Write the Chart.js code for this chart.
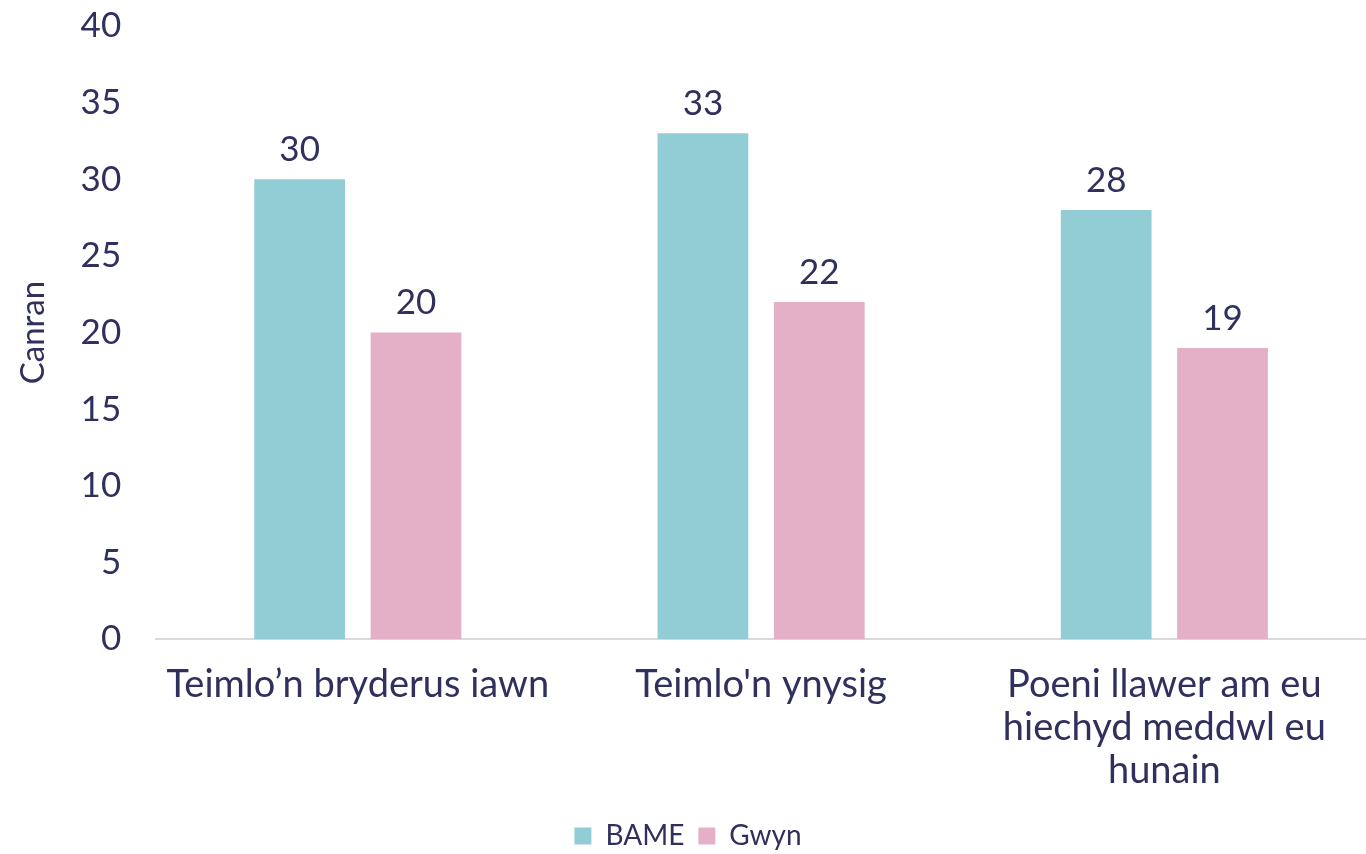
<!DOCTYPE html>
<html>
<head>
<meta charset="utf-8">
<script src="https://cdn.jsdelivr.net/npm/chart.js@4/dist/chart.umd.min.js"></script>
<style>
  html, body { margin: 0; padding: 0; background: #fff; overflow: hidden; }
  #wrap { width: 1366px; height: 882px; margin-top: -22px; }
</style>
</head>
<body>
<div id="wrap"><canvas id="chart"></canvas></div>
<script>
var categories = [
    "Teimlo\u2019n bryderus iawn",
    "Teimlo'n ynysig",
    ["Poeni llawer am eu", "hiechyd meddwl eu", "hunain"]
];
var bame_values = [30, 33, 28];
var gwyn_values = [20, 22, 19];
var y_ticks = [0, 5, 10, 15, 20, 25, 30, 35, 40];

var text_color = "#30305f";
var font_family = "Lato, sans-serif";

// draws the value above each bar
var barValues = {
    id: 'barValues',
    afterDatasetsDraw: function(chart){
        var ctx = chart.ctx;
        ctx.save();
        ctx.fillStyle = text_color;
        ctx.font = "35px " + font_family;
        ctx.textAlign = "center";
        ctx.textBaseline = "bottom";
        chart.data.datasets.forEach(function(ds, i){
            chart.getDatasetMeta(i).data.forEach(function(bar, j){
                ctx.fillText(ds.data[j], bar.x, bar.y - 12);
            });
        });
        ctx.restore();
    }
};

var ctx = document.getElementById("chart").getContext("2d");
var chart1 = new Chart(ctx, {
    type: 'bar',
    data: {
        labels: categories,
        datasets: [{
            label: 'BAME',
            data: bame_values,
            backgroundColor: '#92cdd6',
            categoryPercentage: 0.577,
            barPercentage: 0.78
        }, {
            label: 'Gwyn',
            data: gwyn_values,
            backgroundColor: '#e4b0c8',
            categoryPercentage: 0.577,
            barPercentage: 0.78
        }]
    },
    options: {
        responsive: true,
        maintainAspectRatio: false,
        animation: false,
        layout: { padding: { top: -24, right: 0, left: 10, bottom: 0 } },
        plugins: {
            legend: {
                position: 'bottom',
                labels: {
                    color: text_color,
                    font: { size: 28, family: font_family },
                    boxWidth: 17,
                    boxHeight: 17,
                    padding: 14
                }
            },
            tooltip: { enabled: false }
        },
        scales: {
            x: {
                grid: { display: false },
                border: { color: '#d9d9d9', width: 2 },
                ticks: {
                    color: text_color,
                    font: { size: 38, family: font_family, lineHeight: 1.13 },
                    maxRotation: 0,
                    padding: 16
                }
            },
            y: {
                min: 0,
                max: 40,
                afterBuildTicks: function(axis){
                    axis.ticks = y_ticks.map(function(v){ return { value: v }; });
                },
                grid: { display: false },
                border: { display: false },
                ticks: {
                    color: text_color,
                    font: { size: 35, family: font_family },
                    padding: 27
                },
                title: {
                    display: true,
                    text: 'Canran',
                    color: text_color,
                    font: { size: 33, family: font_family },
                    padding: { top: 4, bottom: 0 }
                }
            }
        }
    },
    plugins: [barValues]
});
</script>
</body>
</html>
